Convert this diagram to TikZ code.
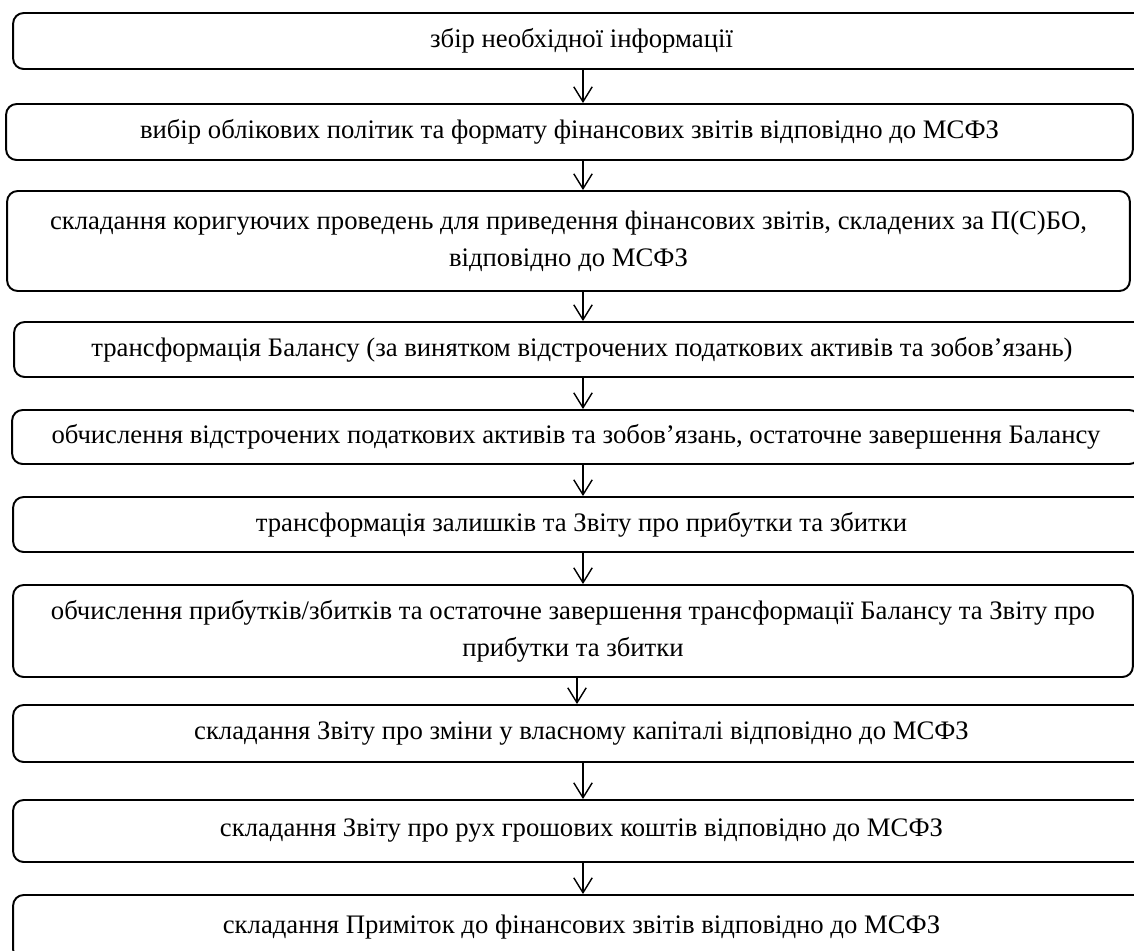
\documentclass[tikz,border=0pt]{standalone}
\usepackage{fontspec}
\setmainfont{Liberation Serif}
\usetikzlibrary{positioning, arrows.meta}

\begin{document}
\begin{tikzpicture}[
    x=0.02cm, y=-0.02cm,
    every node/.style={align=center, font=\fontsize{15.2}{21}\selectfont},
    process/.style={rectangle, draw, rounded corners=6pt, line width=1.1pt, inner sep=0pt},
    link/.style={->, line width=0.8pt},
    >={Straight Barb[length=8.5pt, width=10.5pt]}
]
\useasboundingbox (0,0) rectangle (1134,951);
\clip (0,0) rectangle (1134,951);

\node[process, minimum width=22.74cm, minimum height=1.12cm] (collect) at (581.5,41) {збір необхідної інформації};
\node[process, minimum width=22.54cm, minimum height=1.12cm] (policy) at (569.5,132) {вибір облікових політик та формату фінансових звітів відповідно до МСФЗ};
\node[process, minimum width=22.46cm, minimum height=2.00cm] (adjust) at (568.5,241) {складання коригуючих проведень для приведення фінансових звітів, складених за П(С)БО,\\ відповідно до МСФЗ};
\node[process, minimum width=22.72cm, minimum height=1.10cm] (balance) at (582,349.5) {трансформація Балансу (за винятком відстрочених податкових активів та зобов’язань)};
\node[process, minimum width=22.56cm, minimum height=1.08cm] (deftax) at (576,437) {обчислення відстрочених податкових активів та зобов’язань, остаточне завершення Балансу};
\node[process, minimum width=22.74cm, minimum height=1.10cm] (pnl) at (581.5,524.5) {трансформація залишків та Звіту про прибутки та збитки};
\node[process, minimum width=22.40cm, minimum height=1.84cm] (profit) at (573,631) {обчислення прибутків/збитків та остаточне завершення трансформації Балансу та Звіту про\\ прибутки та збитки};
\node[process, minimum width=22.74cm, minimum height=1.14cm] (equity) at (581.5,733.5) {складання Звіту про зміни у власному капіталі відповідно до МСФЗ};
\node[process, minimum width=22.74cm, minimum height=1.24cm] (cashflow) at (581.5,831) {складання Звіту про рух грошових коштів відповідно до МСФЗ};
\node[process, minimum width=22.74cm, minimum height=1.30cm] (notes) at (581.5,927.5) {складання Приміток до фінансових звітів відповідно до МСФЗ};

% arrows run down one line
\coordinate (ax) at (583,0);
\coordinate (ax2) at (577,0);

\draw[link] (collect.south -| ax) -- (policy.north -| ax);
\draw[link] (policy.south -| ax) -- (adjust.north -| ax);
\draw[link] (adjust.south -| ax) -- (balance.north -| ax);
\draw[link] (balance.south -| ax) -- (deftax.north -| ax);
\draw[link] (deftax.south -| ax) -- (pnl.north -| ax);
\draw[link] (pnl.south -| ax) -- (profit.north -| ax);
\draw[link] (profit.south -| ax2) -- (equity.north -| ax2);
\draw[link] (equity.south -| ax) -- (cashflow.north -| ax);
\draw[link] (cashflow.south -| ax) -- (notes.north -| ax);

\end{tikzpicture}
\end{document}
